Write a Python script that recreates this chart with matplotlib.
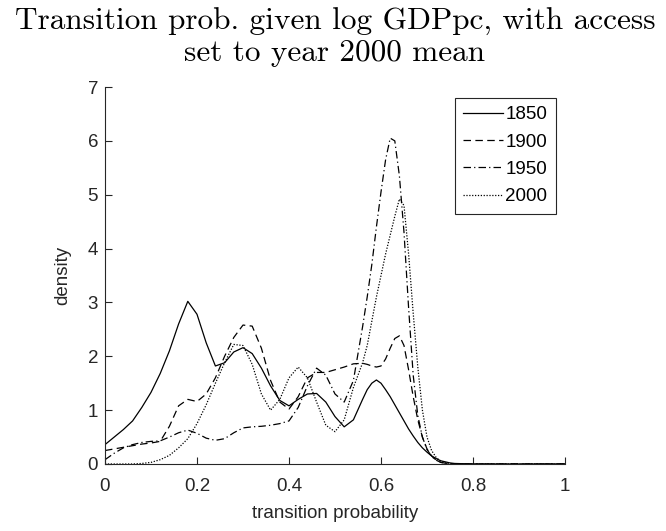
import matplotlib
matplotlib.use("Agg")
import matplotlib.pyplot as plt

# transition probability grid (finer near the big peaks)
x = [0.00, 0.02, 0.04, 0.06, 0.08, 0.10, 0.12, 0.14, 0.16, 0.18, 0.20, 0.22, 0.24, 0.26,
     0.28, 0.30, 0.32, 0.34, 0.36, 0.38, 0.40, 0.42, 0.44, 0.46, 0.48, 0.50, 0.52, 0.54, 0.56,
     0.57, 0.58, 0.59, 0.60, 0.61, 0.62, 0.63, 0.64, 0.65, 0.66, 0.67, 0.68, 0.69, 0.70,
     0.71, 0.72, 0.73, 0.74, 0.75, 0.76, 0.80, 0.90, 1.00]

d1850 = [0.36, 0.50, 0.64, 0.80, 1.05, 1.33, 1.68, 2.10, 2.60, 3.02, 2.78, 2.25, 1.82, 1.88,
         2.08, 2.16, 2.05, 1.78, 1.45, 1.18, 1.08, 1.20, 1.30, 1.31, 1.15, 0.88, 0.69, 0.82, 1.20,
         1.38, 1.50, 1.56, 1.50, 1.38, 1.25, 1.10, 0.95, 0.80, 0.65, 0.52, 0.40, 0.30, 0.22,
         0.15, 0.10, 0.06, 0.04, 0.02, 0.01, 0.0, 0.0, 0.0]
d1900 = [0.25, 0.28, 0.31, 0.34, 0.37, 0.39, 0.42, 0.70, 1.08, 1.20, 1.16, 1.30, 1.60, 2.00,
         2.35, 2.58, 2.56, 2.15, 1.55, 1.15, 1.02, 1.25, 1.60, 1.70, 1.70, 1.75, 1.80, 1.86, 1.87,
         1.85, 1.82, 1.80, 1.82, 1.95, 2.15, 2.33, 2.38, 2.20, 1.75, 1.25, 0.82, 0.50, 0.28,
         0.15, 0.07, 0.03, 0.015, 0.005, 0.0, 0.0, 0.0, 0.0]
d1950 = [0.08, 0.20, 0.30, 0.36, 0.40, 0.42, 0.43, 0.50, 0.58, 0.63, 0.57, 0.48, 0.44, 0.47,
         0.58, 0.67, 0.69, 0.70, 0.72, 0.75, 0.80, 1.05, 1.45, 1.78, 1.65, 1.30, 1.15, 1.55, 2.55,
         3.10, 3.70, 4.40, 5.05, 5.65, 6.05, 6.00, 5.35, 4.30, 2.90, 1.65, 0.90, 0.50, 0.27,
         0.14, 0.07, 0.03, 0.015, 0.005, 0.0, 0.0, 0.0, 0.0]
d2000 = [0.0, 0.0, 0.0, 0.0, 0.01, 0.03, 0.08, 0.16, 0.30, 0.47, 0.75, 1.10, 1.50, 1.88,
         2.22, 2.20, 1.85, 1.30, 1.00, 1.20, 1.60, 1.80, 1.60, 1.15, 0.72, 0.60, 0.82, 1.42, 1.88,
         2.20, 2.65, 3.10, 3.50, 3.90, 4.25, 4.60, 4.92, 4.80, 3.90, 2.80, 1.80, 1.00, 0.50,
         0.25, 0.12, 0.05, 0.02, 0.01, 0.0, 0.0, 0.0, 0.0]

years = ["1850", "1900", "1950", "2000"]
styles = ["-", (0, (6, 3.5)), (0, (6, 2.5, 1, 2.5)), (0, (1, 1.3))]

plt.rcParams['font.family'] = ['Liberation Sans', 'DejaVu Sans']
grey = '#262626'

fig = plt.figure(figsize=(6.66, 5.31), dpi=100)
ax = fig.add_axes([105 / 666, 1 - 464 / 531, 460 / 666, 377 / 531])

for data, yr, ls in zip([d1850, d1900, d1950, d2000], years, styles):
    ax.plot(x, data, color='black', linestyle=ls, linewidth=0.9, label=yr)

ax.set_xlim(0, 1)
ax.set_ylim(0, 7)
ax.set_xticks([0, 0.2, 0.4, 0.6, 0.8, 1])
ax.set_xticklabels(['0', '0.2', '0.4', '0.6', '0.8', '1'])
ax.set_yticks(range(8))
ax.spines['top'].set_visible(False)
ax.spines['right'].set_visible(False)
for s in ['left', 'bottom']:
    ax.spines[s].set_color(grey)
    ax.spines[s].set_linewidth(0.8)
ax.tick_params(direction='in', length=5, width=0.8, colors=grey, labelsize=13.5)
ax.tick_params(axis='x', pad=10)
ax.tick_params(axis='y', pad=5)
ax.set_xlabel('transition probability', fontsize=13.5, color=grey, labelpad=7)
ax.set_ylabel('density', fontsize=13.5, color=grey, labelpad=12)

ax.set_title('Transition prob. given log GDPpc, with access\nset to year 2000 mean',
             fontname='cmr10', fontsize=22.5, linespacing=1.12, pad=19)

leg = ax.legend(loc='upper right', bbox_to_anchor=(0.98, 0.972), fontsize=13.5,
                handlelength=2.15, handletextpad=0.1, borderpad=0.45, labelspacing=0.55,
                fancybox=False, framealpha=1, borderaxespad=0)
leg.get_frame().set_edgecolor(grey)
leg.get_frame().set_linewidth(0.8)

fig.savefig('out.png', dpi=100)
